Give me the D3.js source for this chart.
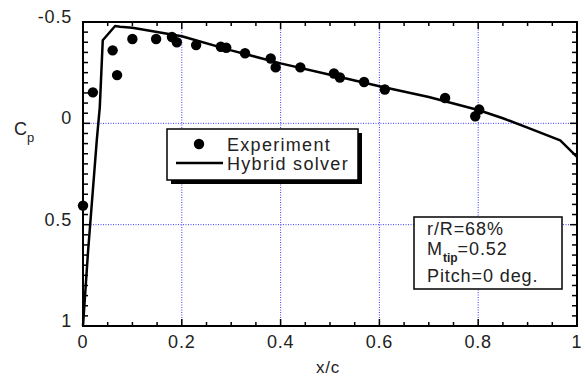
<!DOCTYPE html>
<html>
<head>
<meta charset="utf-8">
<script src="https://cdn.jsdelivr.net/npm/d3@7"></script>
<style>
  body { margin: 0; background: #fff; }
  svg { display: block; font-family: "Liberation Sans", Arial, sans-serif; }
</style>
</head>
<body>
<div id="chart"></div>
<script>
// experiment points (x/c, Cp)
const expX = [0.0, 0.02, 0.06, 0.069, 0.1, 0.148, 0.18, 0.19, 0.229, 0.279, 0.29, 0.328, 0.38, 0.39, 0.44, 0.508, 0.52, 0.569, 0.611, 0.733, 0.802, 0.794]
const expCp = [0.406, -0.153, -0.36, -0.238, -0.416, -0.416, -0.426, -0.40, -0.386, -0.378, -0.373, -0.346, -0.32, -0.276, -0.276, -0.246, -0.226, -0.204, -0.167, -0.125, -0.068, -0.035]

// hybrid solver line
const solX = [0.0, 0.01, 0.028, 0.034, 0.04, 0.065, 0.075, 0.1, 0.2, 0.3, 0.4, 0.5, 0.6, 0.7, 0.8, 0.85, 0.905, 0.966, 1.0]
const solCp = [1.0, 0.64, 0.08, -0.08, -0.41, -0.48, -0.477, -0.472, -0.43, -0.36, -0.296, -0.24, -0.183, -0.13, -0.066, -0.025, 0.026, 0.084, 0.165]

const xTicks = [0, 0.2, 0.4, 0.6, 0.8, 1]
const yTicks = [-0.5, 0, 0.5, 1]

const width = 585, height = 378
const x = d3.scaleLinear().domain([0, 1]).range([83, 577])
const y = d3.scaleLinear().domain([-0.5, 1]).range([22, 326])

const svg = d3.create('svg')
  .attr('width', width)
  .attr('height', height)
  .attr('viewBox', [0, 0, width, height])
document.getElementById('chart').appendChild(svg.node())

// grid
const grid = svg.append('g')
  .attr('stroke', '#3c3cff')
  .attr('stroke-width', 1)
  .attr('stroke-dasharray', '1,1.5')
grid.selectAll('.gx')
  .data([0.2, 0.4, 0.6, 0.8])
  .join('line')
  .attr('class', 'gx')
  .attr('x1', d => x(d)).attr('x2', d => x(d))
  .attr('y1', y(-0.5)).attr('y2', y(1))
grid.selectAll('.gy')
  .data([0, 0.5])
  .join('line')
  .attr('class', 'gy')
  .attr('x1', x(0)).attr('x2', x(1))
  .attr('y1', d => y(d)).attr('y2', d => y(d))

// minor / major ticks
const xMinor = d3.range(0, 1.0001, 0.05)
const yMinor = d3.range(-0.5, 1.0001, 0.05)
const isMajX = d => Math.abs(d * 5 - Math.round(d * 5)) < 1e-6
const isMajY = d => Math.abs(d * 2 - Math.round(d * 2)) < 1e-6
const ticks = svg.append('g').attr('stroke', '#000').attr('stroke-width', 1.5)
ticks.selectAll('.tb').data(xMinor).join('line').attr('class', 'tb')
  .attr('x1', d => x(d)).attr('x2', d => x(d))
  .attr('y1', y(1)).attr('y2', d => y(1) - (isMajX(d) ? 7 : 4))
ticks.selectAll('.tt').data(xMinor).join('line').attr('class', 'tt')
  .attr('x1', d => x(d)).attr('x2', d => x(d))
  .attr('y1', y(-0.5)).attr('y2', d => y(-0.5) + (isMajX(d) ? 7 : 4))
ticks.selectAll('.tl').data(yMinor).join('line').attr('class', 'tl')
  .attr('y1', d => y(d)).attr('y2', d => y(d))
  .attr('x1', x(0)).attr('x2', d => x(0) + (isMajY(d) ? 7 : 5))
ticks.selectAll('.tr').data(yMinor).join('line').attr('class', 'tr')
  .attr('y1', d => y(d)).attr('y2', d => y(d))
  .attr('x1', x(1)).attr('x2', d => x(1) - (isMajY(d) ? 7 : 5))

// frame
svg.append('rect')
  .attr('x', x(0)).attr('y', y(-0.5))
  .attr('width', x(1) - x(0)).attr('height', y(1) - y(-0.5))
  .attr('fill', 'none').attr('stroke', '#000').attr('stroke-width', 2)

// tick labels
svg.append('g').selectAll('text').data(xTicks).join('text')
  .attr('x', d => x(d)).attr('y', 348)
  .attr('text-anchor', 'middle').attr('font-size', 18)
  .attr('letter-spacing', 0.8)
  .attr('fill', '#222')
  .text(d => d3.format('')(d))
svg.append('g').selectAll('text').data(yTicks).join('text')
  .attr('x', 72).attr('y', d => y(d) + 1)
  .attr('text-anchor', 'end').attr('font-size', 18)
  .attr('letter-spacing', 0.8)
  .attr('fill', '#222')
  .text(d => d3.format('')(d).replace('\u2212', '-'))

// axis titles
svg.append('text').attr('x', 328).attr('y', 373)
  .attr('text-anchor', 'middle').attr('font-size', 17).attr('fill', '#222')
  .attr('letter-spacing', 0.8)
  .text('x/c')
const cp = svg.append('text').attr('x', 14).attr('y', 135).attr('font-size', 18).attr('fill', '#222')
cp.append('tspan').text('C')
cp.append('tspan').attr('font-size', 13).attr('dy', 7).text('p')

// solver line
const line = d3.line().x((d, i) => x(solX[i])).y(d => y(d))
svg.append('path')
  .datum(solCp)
  .attr('d', line)
  .attr('fill', 'none').attr('stroke', '#000').attr('stroke-width', 2.5)
  .attr('stroke-linejoin', 'round')

// experiment dots
svg.append('g').selectAll('circle')
  .data(expCp)
  .join('circle')
  .attr('cx', (d, i) => x(expX[i]))
  .attr('cy', d => y(d))
  .attr('r', 5.2)
  .attr('fill', '#000')

// legend
const lg = svg.append('g')
lg.append('rect').attr('x', 171).attr('y', 133).attr('width', 191).attr('height', 51).attr('fill', '#000')
lg.append('rect').attr('x', 167).attr('y', 129).attr('width', 191).attr('height', 51)
  .attr('fill', '#fff').attr('stroke', '#000').attr('stroke-width', 1.5)
lg.append('circle').attr('cx', 199).attr('cy', 144).attr('r', 5.2).attr('fill', '#000')
lg.append('line').attr('x1', 176).attr('x2', 223).attr('y1', 163).attr('y2', 163)
  .attr('stroke', '#000').attr('stroke-width', 2.5)
lg.append('text').attr('x', 227).attr('y', 151).attr('font-size', 18)
  .attr('letter-spacing', 1.3).attr('fill', '#222').text('Experiment')
lg.append('text').attr('x', 227).attr('y', 170).attr('font-size', 18)
  .attr('letter-spacing', 1.3).attr('fill', '#222').text('Hybrid solver')

// annotation box
const ann = svg.append('g').attr('font-size', 18).attr('letter-spacing', 0.9).attr('fill', '#222')
ann.append('rect').attr('x', 414).attr('y', 217).attr('width', 148).attr('height', 72)
  .attr('fill', '#fff').attr('stroke', '#000').attr('stroke-width', 1.5)
ann.append('text').attr('x', 427).attr('y', 235).text('r/R=68%')
const m = ann.append('text').attr('x', 427).attr('y', 255)
m.append('tspan').text('M')
m.append('tspan').attr('font-size', 12).attr('font-weight', 'bold').attr('letter-spacing', 0).attr('dy', 7).text('tip')
m.append('tspan').attr('dy', -7).text('=0.52')
ann.append('text').attr('x', 427).attr('y', 282).text('Pitch=0 deg.')
</script>
</body>
</html>
